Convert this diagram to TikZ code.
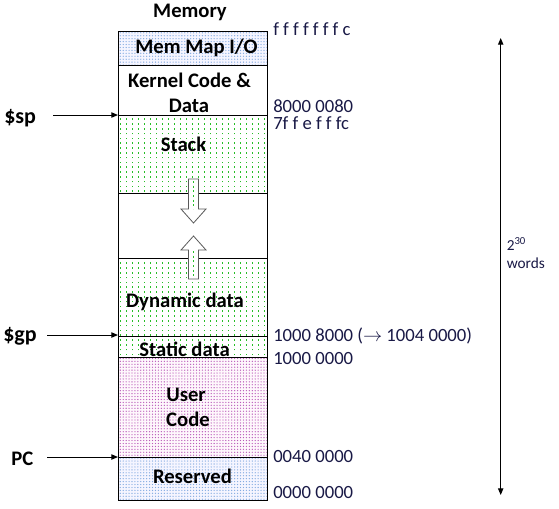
\documentclass[tikz,border=0pt]{standalone}
\usepackage{fontspec}
\setmainfont{Carlito}
\usetikzlibrary{arrows.meta,patterns,patterns.meta}
\definecolor{navy}{RGB}{25,25,70}
\definecolor{gdot}{RGB}{40,190,40}
\definecolor{bdot}{RGB}{130,170,225}
\definecolor{mdot}{RGB}{185,90,185}
\tikzdeclarepattern{name=gdash, type=uncolored,
  bounding box={(-1pt,-1pt) and (1pt,1pt)}, tile size={(4.5pt,3.6pt)},
  code={\draw[line width=0.6pt] (0,-0.6pt) -- (0,0.6pt);}}
\tikzdeclarepattern{name=fdots, type=uncolored,
  bounding box={(-1pt,-1pt) and (1pt,1pt)}, tile size={(2.2pt,2.2pt)},
  code={\fill (0,0) circle (0.5pt);}}
\begin{document}
\begin{tikzpicture}[x=0.75pt,y=-0.75pt,
  lab/.style={font=\fontsize{15.5}{18}\selectfont\bfseries, anchor=base, inner sep=0pt},
  addr/.style={font=\fontsize{14}{16}\selectfont, text=navy, anchor=base west, inner sep=0pt},
  region/.style={draw=black, line width=0.75pt},
  ptr/.style={-{Triangle[length=5pt,width=4pt]}, line width=0.75pt},
  blk/.style={fill=white, draw=gray!70!black, line width=0.6pt},
  ]
\path[use as bounding box] (0,0) rectangle (559,508);
% region fills
\path[fill=blue!4, postaction={pattern=fdots, pattern color=bdot}] (118,31) rectangle (267,65);
\path[pattern=gdash, pattern color=gdot] (118,115) rectangle (267,193);
\path[pattern=gdash, pattern color=gdot] (118,258) rectangle (267,357);
\path[fill=magenta!3, postaction={pattern=fdots, pattern color=mdot}] (118,357) rectangle (267,457);
\path[fill=blue!4, postaction={pattern=fdots, pattern color=bdot}] (118,457) rectangle (267,500);
% outline and separators
\draw[region] (118,31) rectangle (267,500);
\foreach \y in {65,115,193,258,336,357,457} \draw[region] (118,\y) -- (267,\y);
% block arrows
\draw[blk] (188.5,179) -- (198.5,179) -- (198.5,209) -- (206,209) -- (193.5,223) -- (181,209) -- (188.5,209) -- cycle;
\draw[gdot, line width=0.6pt, dash pattern=on 1.5pt off 2pt] (193.5,181) -- (193.5,209);
\draw[blk] (193.5,236) -- (206,250) -- (198.5,250) -- (198.5,279) -- (188.5,279) -- (188.5,250) -- (181,250) -- cycle;
\draw[gdot, line width=0.6pt, dash pattern=on 1.5pt off 2pt] (193.5,251) -- (193.5,278);
% labels
\node[lab] (title) at (190,17) {Memory};
\node[lab] (mmio) at (196.5,53) {Mem Map I/O};
\node[lab] (kern) at (189.5,87) {Kernel Code \&};
\node[lab] (kdata) at (189,112) {Data};
\node[lab] (stack) at (183.5,151.5) {Stack};
\node[lab] (dyn) at (185,307) {Dynamic data};
\node[lab] (stat) at (184.5,356) {Static data};
\node[lab] (user) at (186,401.5) {User};
\node[lab] (code) at (188,426) {Code};
\node[lab] (res) at (192.5,483) {Reserved};
% addresses
\node[addr] (a1) at (273,35) {f f f f f f f c};
\node[addr] (a2) at (273,112.5) {8000 0080};
\node[addr] (a3) at (273,129.5) {7f f e f f fc};
\node[addr] (a4) at (273,341.5) {1000 8000 ($\rightarrow$ 1004 0000)};
\node[addr] (a5) at (273,364) {1000 0000};
\node[addr] (a6) at (273,462.7) {0040 0000};
\node[addr] (a7) at (273,498) {0000 0000};
% pointers
\node[lab, anchor=base west, font=\fontsize{16.5}{18}\selectfont\bfseries] (sp) at (4,123) {\$sp};
\node[lab, anchor=base west, font=\fontsize{16.5}{18}\selectfont\bfseries] (gp) at (3,341.5) {\$gp};
\node[lab, anchor=base west] (pc) at (11,465) {PC};
\coordinate (spa) at (53,115);  \coordinate (spb) at (118,115);
\coordinate (gpa) at (47,335);  \coordinate (gpb) at (118,335);
\coordinate (pca) at (47,457);  \coordinate (pcb) at (118,457);
\draw[ptr] (spa) -- (spb);
\draw[ptr] (gpa) -- (gpb);
\draw[ptr] (pca) -- (pcb);
% size arrow
\coordinate (top) at (500.7,38);
\coordinate (bot) at (500.7,495);
\draw[line width=0.75pt, {Triangle[length=5pt,width=4pt]}-{Triangle[length=5pt,width=4pt]}] (top) -- (bot);
\node[addr, font=\fontsize{11.5}{13}\selectfont] (two) at (506.5,250) {2\textsuperscript{30}};
\node[addr, font=\fontsize{11.5}{13}\selectfont] (words) at (506.5,268) {words};
\end{tikzpicture}
\end{document}
